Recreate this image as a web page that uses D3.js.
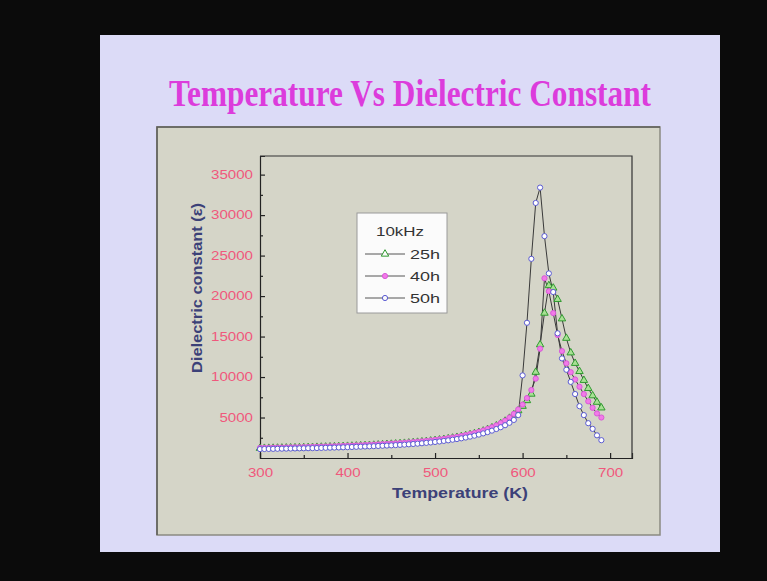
<!DOCTYPE html>
<html>
<head>
<meta charset="utf-8">
<script src="https://cdn.jsdelivr.net/npm/d3@7"></script>
<style>
  body { margin: 0; background: #0b0b0b; }
  svg { display: block; }
</style>
</head>
<body>
<svg id="DielectricChart" width="767" height="581"></svg>
<script>
// temperature points (K)
var temps = [300,305,310,315,320,325,330,335,340,345,350,355,360,365,370,375,380,385,390,395,
             400,405,410,415,420,425,430,435,440,445,450,455,460,465,470,475,480,485,490,495,
             500,505,510,515,520,525,530,535,540,545,550,555,560,565,570,575,580,585,590,595,
             600,605,610,615,620,625,630,635,640,645,650,655,660,665,670,675,680,685,690];

// dielectric constant at 10kHz for each milling time
var eps25h = [1200,1205,1210,1220,1230,1240,1250,1260,1270,1280,1290,1305,1320,1335,1350,1365,1380,1395,1415,1435,
              1455,1475,1495,1520,1545,1570,1595,1625,1655,1685,1715,1750,1785,1825,1865,1910,1955,2005,2055,2110,
              2170,2240,2310,2390,2470,2560,2660,2770,2890,3020,3170,3340,3530,3740,3980,4250,4560,4920,5350,5850,
              6400,7100,7900,10600,14000,17900,21300,21000,19600,17200,14800,13000,11700,10700,9600,8600,7700,6900,6200];

var eps40h = [1250,1255,1260,1270,1280,1290,1300,1310,1320,1330,1345,1360,1375,1390,1405,1420,1435,1450,1470,1490,
              1510,1530,1550,1575,1600,1625,1650,1680,1710,1740,1770,1805,1840,1880,1920,1965,2010,2060,2110,2170,
              2230,2300,2370,2450,2530,2620,2720,2830,2950,3080,3230,3400,3590,3800,4040,4310,4620,5000,5450,6000,
              6600,7400,8400,9800,13500,22200,20600,17900,15200,13200,11700,10600,9700,8800,7900,7000,6200,5500,5000];

var eps50h = [1100,1110,1120,1130,1140,1150,1160,1170,1180,1190,1200,1210,1220,1230,1245,1260,1275,1290,1305,1320,
              1340,1360,1380,1400,1420,1440,1460,1485,1510,1535,1560,1590,1620,1650,1690,1730,1770,1820,1870,1920,
              1980,2040,2110,2180,2260,2340,2430,2530,2640,2760,2890,3040,3200,3380,3580,3800,4050,4350,4700,5300,
              10200,16700,24600,31500,33400,27400,22800,20500,15400,12300,10900,9400,7900,6400,5300,4300,3600,2800,2200];

var seriesNames = ["25h", "40h", "50h"];
var xTicks = [300, 400, 500, 600, 700];
var xMinor = [350, 450, 550, 650];
var yTicks = [5000, 10000, 15000, 20000, 25000, 30000, 35000];
var yMinor = [2500, 7500, 12500, 17500, 22500, 27500, 32500];

(function DielectricChart() {
    var svg = d3.select("#DielectricChart"),
        width = +svg.attr("width"),
        height = +svg.attr("height");

    var series = [
        { name: seriesNames[0], values: eps25h },
        { name: seriesNames[1], values: eps40h },
        { name: seriesNames[2], values: eps50h }
    ];

    // background: black screen, lavender slide, grey plot panel
    svg.append("rect").attr("width", width).attr("height", height).attr("fill", "#0b0b0b");
    svg.append("rect")
       .attr("x", 100).attr("y", 35).attr("width", 620).attr("height", 517)
       .attr("fill", "#dcdbf7");
    svg.append("rect")
       .attr("x", 157).attr("y", 127).attr("width", 503).attr("height", 408)
       .attr("fill", "#d5d5c8")
       .attr("stroke", "#8a8a82").attr("stroke-width", 1.5);
    svg.append("path")
       .attr("d", "M157,535V127H660")
       .attr("fill", "none").attr("stroke", "#5e5e58").attr("stroke-width", 1.5);

    svg.append("text")
       .attr("x", 410).attr("y", 106)
       .attr("text-anchor", "middle")
       .attr("textLength", 482).attr("lengthAdjust", "spacingAndGlyphs")
       .style("font-family", "'Liberation Serif', 'Times New Roman', serif")
       .style("font-weight", "bold")
       .style("font-size", "37px")
       .attr("fill", "#dc3cdc")
       .text("Temperature Vs Dielectric Constant");

    var x = d3.scaleLinear().domain([300, 725]).range([260, 632]);
    var y = d3.scaleLinear().domain([0, 37300]).range([458, 156]);

    var tickColor = "#f0587c";

    var xAxis = svg.append("g")
       .attr("transform", "translate(0,458)")
       .call(d3.axisBottom(x).tickValues(xTicks).tickSize(-5).tickPadding(10).tickFormat(d3.format("d")));
    svg.append("g")
       .attr("transform", "translate(0,458)")
       .call(d3.axisBottom(x).tickValues(xMinor).tickSize(-3).tickFormat(""))
       .select(".domain").remove();

    var yAxis = svg.append("g")
       .attr("transform", "translate(260,0)")
       .call(d3.axisLeft(y).tickValues(yTicks).tickSize(-5).tickPadding(7).tickFormat(d3.format("d")));
    svg.append("g")
       .attr("transform", "translate(260,0)")
       .call(d3.axisLeft(y).tickValues(yMinor).tickSize(-3).tickFormat(""))
       .select(".domain").remove();

    svg.selectAll(".tick line").attr("stroke", "#222").attr("stroke-width", 1.2);
    svg.selectAll(".domain").attr("stroke", "#222").attr("stroke-width", 1.2);

    [xAxis, yAxis].forEach(function(ax) {
        ax.selectAll(".tick text")
          .attr("fill", tickColor)
          .attr("textLength", function(d) { return String(d).length * 8.4; })
          .attr("lengthAdjust", "spacingAndGlyphs")
          .style("font-family", "Arial, 'Liberation Sans', sans-serif")
          .style("font-size", "12px");
    });

    // frame on top and right
    svg.append("path")
       .attr("d", "M260,156H632V458")
       .attr("fill", "none").attr("stroke", "#333").attr("stroke-width", 1.2);

    var titleColor = "#3c4178";
    svg.append("text")
       .attr("x", 460).attr("y", 498)
       .attr("text-anchor", "middle")
       .attr("textLength", 136).attr("lengthAdjust", "spacingAndGlyphs")
       .style("font-family", "Arial, 'Liberation Sans', sans-serif")
       .style("font-weight", "bold").style("font-size", "14px")
       .attr("fill", titleColor)
       .text("Temperature (K)");
    svg.append("text")
       .attr("transform", "translate(202,288) rotate(-90)")
       .attr("text-anchor", "middle")
       .attr("textLength", 170).attr("lengthAdjust", "spacingAndGlyphs")
       .style("font-family", "Arial, 'Liberation Sans', sans-serif")
       .style("font-weight", "bold").style("font-size", "14px")
       .attr("fill", titleColor)
       .text("Dielectric constant (\u03b5)");

    var line = d3.line()
                 .x(function(d, i) { return x(temps[i]); })
                 .y(function(d) { return y(d); });

    var styles = {
        "25h": { stroke: "#2f9a2f", fill: "#a8e094" },
        "40h": { stroke: "#d85ad8", fill: "#f27ae8" },
        "50h": { stroke: "#5a5ad2", fill: "#ffffff" }
    };
    var triangle = d3.symbol().type(d3.symbolTriangle).size(24);

    function drawMarker(sel, name) {
        if (name === "25h") {
            return sel.append("path").attr("d", triangle);
        }
        return sel.append("circle").attr("r", 2.6);
    }

    var plot = svg.append("g");

    series.forEach(function(s) {
        plot.append("path")
            .datum(s.values)
            .attr("d", line)
            .attr("fill", "none")
            .attr("stroke", "#3a3a3a")
            .attr("stroke-width", 1);
    });

    series.forEach(function(s) {
        var st = styles[s.name];
        var pts = plot.selectAll(".pt" + s.name)
                      .data(s.values)
                      .enter().append("g")
                      .attr("transform", function(d, i) { return "translate(" + x(temps[i]) + "," + y(d) + ")"; });
        drawMarker(pts, s.name)
            .attr("fill", st.fill)
            .attr("stroke", st.stroke)
            .attr("stroke-width", 1);
    });

    // legend
    var lg = svg.append("g");
    lg.append("rect")
      .attr("x", 357).attr("y", 213).attr("width", 90).attr("height", 100)
      .attr("fill", "#fbfbfb").attr("stroke", "#9a9a9a");
    lg.append("text")
      .attr("x", 400).attr("y", 236)
      .attr("text-anchor", "middle")
      .attr("textLength", 48).attr("lengthAdjust", "spacingAndGlyphs")
      .style("font-family", "Arial, 'Liberation Sans', sans-serif").style("font-size", "13px")
      .attr("fill", "#333")
      .text("10kHz");

    var rowY = [254, 276, 298];
    series.forEach(function(s, i) {
        var st = styles[s.name];
        var row = lg.append("g").attr("transform", "translate(0," + rowY[i] + ")");
        row.append("line")
           .attr("x1", 365).attr("x2", 405)
           .attr("stroke", "#555").attr("stroke-width", 1);
        var m = row.append("g").attr("transform", "translate(385,0)");
        drawMarker(m, s.name)
           .attr("fill", s.name === "40h" ? st.fill : "#fbfbfb")
           .attr("stroke", st.stroke)
           .attr("stroke-width", 1);
        row.append("text")
           .attr("x", 410).attr("y", 5)
           .attr("textLength", 30).attr("lengthAdjust", "spacingAndGlyphs")
           .style("font-family", "Arial, 'Liberation Sans', sans-serif").style("font-size", "13px")
           .attr("fill", "#333")
           .text(s.name);
    });
}());
</script>
</body>
</html>
